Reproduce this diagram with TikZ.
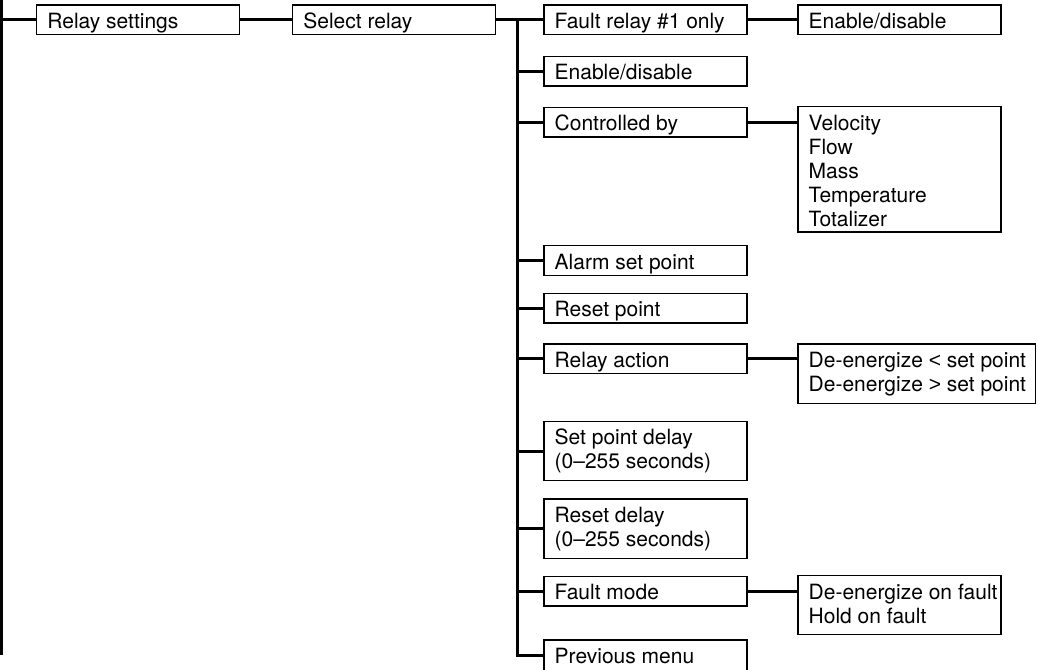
\documentclass[tikz,border=0pt]{standalone}
\usepackage{fontspec}
\setmainfont{TeX Gyre Heros}
\newfontfamily\relsym{Liberation Sans}
\begin{document}
\begin{tikzpicture}[x=1pt,y=-1pt,
  frame/.style={draw, line width=1.3pt, rectangle, outer sep=0pt, inner sep=0pt,
                anchor=north west, minimum width=203pt, minimum height=29.5pt},
  tall/.style={minimum height=59.3pt},
  lbl/.style={anchor=north west, inner sep=0pt, align=left,
              font=\fontsize{21}{24}\selectfont},
  wire/.style={line width=3pt},
]
% canvas
\fill[white] (0,0) rectangle (1038,669);
\useasboundingbox (0,0) rectangle (1038,669);

% menu boxes
\node[frame] (rs)  at (36.7,5)   {};
\node[frame] (sr)  at (292.7,5)  {};
\node[frame] (f1)  at (544,5)    {};
\node[frame] (en)  at (544,56.4) {};
\node[frame] (cb)  at (544,107.4){};
\node[frame] (as)  at (544,245.7){};
\node[frame] (rp)  at (544,293.4){};
\node[frame] (ra)  at (544,344)  {};
\node[frame,tall] (spd) at (544,421.4){};
\node[frame,tall] (rd)  at (544,499)  {};
\node[frame] (fm)  at (544,576.4){};
\node[frame,minimum height=30.5pt] (pm)  at (544,640)  {};
\node[frame] (en2) at (798,5)    {};
\node[frame,minimum height=125.3pt] (vel) at (798,106.7){};
\node[frame,tall,minimum width=237.3pt] (de) at (798,344){};
\node[frame,minimum height=58.6pt] (df) at (798,575.7){};

% box texts
\foreach \b/\t in {rs/{Relay settings}, sr/{Select relay}, f1/{Fault relay \#1 only},
    en/{Enable/disable}, cb/{Controlled by}, as/{Alarm set point}, rp/{Reset point},
    ra/{Relay action}, spd/{Set point delay\\(0--255 seconds)},
    rd/{Reset delay\\(0--255 seconds)}, fm/{Fault mode}, pm/{Previous menu},
    en2/{Enable/disable}, vel/{Velocity\\Flow\\Mass\\Temperature\\Totalizer},
    de/{De-energize {\relsym <} set point\\De-energize {\relsym >} set point},
    df/{De-energize on fault\\Hold on fault}}
  \node[lbl] (\b-t) at ([shift={(10.5pt,-6.5pt)}]\b.north west) {\strut\t};

% connectors
\coordinate (lt) at (1.5,-3);
\coordinate (lb) at (1.5,655);
\coordinate (trk) at (517.3,0);
\draw[wire] (lt) -- (lb);
\draw[wire] (rs.west -| lt) -- (rs.west);
\draw[wire] (rs.east) -- (sr.west);
\draw[wire] (sr.east) -- (f1.west);
\draw[wire] (sr.east -| trk) |- (pm.west);
\foreach \b in {en,cb,as,rp,ra,spd,rd,fm}
  \draw[wire] (\b.west -| trk) -- (\b.west);
\draw[wire] (f1.east) -- (en2.west);
\draw[wire] (cb.east) -- (cb.east -| vel.west);
\draw[wire] (ra.east) -- (ra.east -| de.west);
\draw[wire] (fm.east) -- (fm.east -| df.west);
\end{tikzpicture}
\end{document}
